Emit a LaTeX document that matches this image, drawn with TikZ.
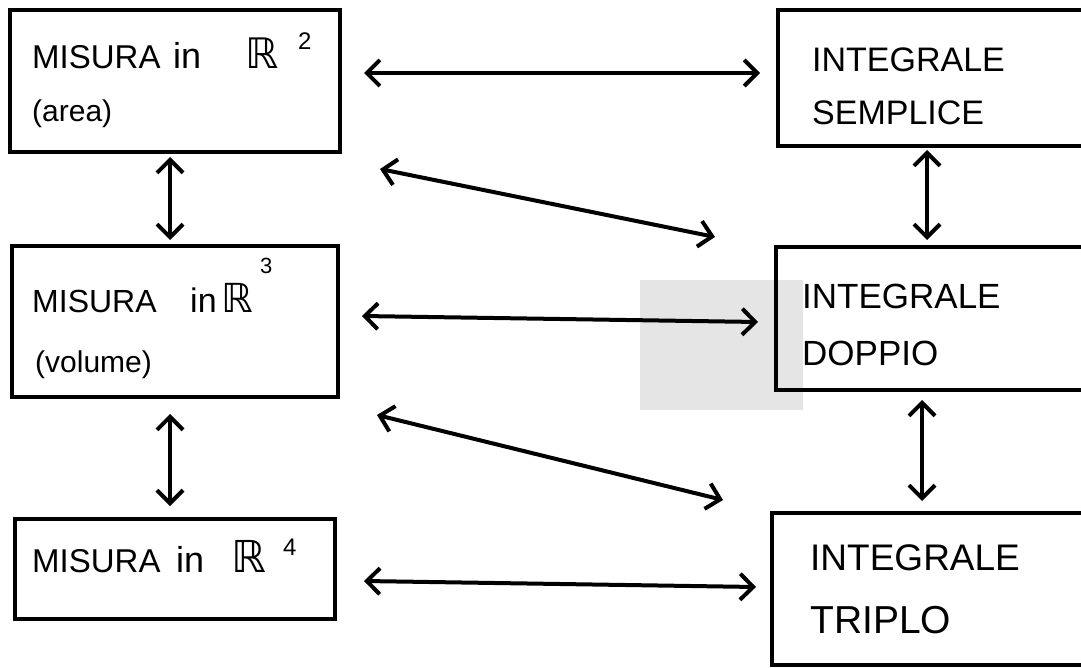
\documentclass[tikz,border=0pt]{standalone}
\usepackage{fontspec}
\setmainfont{Liberation Sans}
\newfontfamily\dvsans{DejaVu Sans}
\usetikzlibrary{arrows.meta,calc}

\tikzset{
  box/.style={draw=black, line width=4pt, rectangle, inner sep=0pt},
  barb/.tip={Straight Barb[length=13pt,width=26pt,line width=4pt]},
  dbl/.style={line width=4pt, line cap=round, barb-barb},
  txt/.style={anchor=base west, inner sep=0pt, text=black},
}
\newcommand{\fs}[1]{\fontsize{#1}{#1}\selectfont}

\begin{document}
\begin{tikzpicture}[x=1pt,y=-1pt]
  \useasboundingbox (0,0) rectangle (1081,668);
  \clip (0,0) rectangle (1081,668);
  \fill[white] (0,0) rectangle (1081,668);

  % light shaded patch behind the middle right box
  \fill[black!10] (640,280) rectangle (803,410);

  % boxes
  \node[box, minimum width=330pt, minimum height=142pt] (A) at (175,81) {};
  \node[box, minimum width=322pt, minimum height=136pt] (B) at (939,78) {};
  \node[box, minimum width=326pt, minimum height=151pt] (C) at (175,321.5) {};
  \node[box, minimum width=324pt, minimum height=143pt] (D) at (938,318.5) {};
  \node[box, minimum width=320pt, minimum height=100pt] (E) at (175,569) {};
  \node[box, minimum width=328pt, minimum height=152pt] (F) at (936,589) {};

  % labels: measure in R^2
  \node[txt, font=\fs{33}] (tA1) at (32,69) {MISURA};
  \node[txt, font=\fs{36}] (tA1in) at (173,69) {in};
  \node[txt, font=\dvsans\fs{42}] (tA1R) at (245,69) {ℝ};
  \node[txt, font=\fs{24}] (tA1s) at (298,50) {2};
  \node[txt, font=\fs{30}] (tA2) at (32,122) {(area)};
  % simple integral
  \node[txt, font=\fs{34}] (tB1) at (812,72) {INTEGRALE};
  \node[txt, font=\fs{34}] (tB2) at (812,125) {SEMPLICE};
  % measure in R^3
  \node[txt, font=\fs{32}] (tC1) at (32,312) {MISURA};
  \node[txt, font=\fs{34}] (tC1in) at (190,312) {in};
  \node[txt, font=\dvsans\fs{40}] (tC1R) at (221,312) {ℝ};
  \node[txt, font=\fs{22}] (tC1s) at (260,273) {3};
  \node[txt, font=\fs{30}] (tC2) at (35,372) {(volume)};
  % double integral
  \node[txt, font=\fs{35}] (tD1) at (802,308) {INTEGRALE};
  \node[txt, font=\fs{35}] (tD2) at (802,365) {DOPPIO};
  % measure in R^4
  \node[txt, font=\fs{33}] (tE1) at (32,572) {MISURA};
  \node[txt, font=\fs{36}] (tE1in) at (176,572) {in};
  \node[txt, font=\dvsans\fs{44}] (tE1R) at (231,572) {ℝ};
  \node[txt, font=\fs{24}] (tE1s) at (283,555) {4};
  % triple integral
  \node[txt, font=\fs{37}] (tF1) at (810,570) {INTEGRALE};
  \node[txt, font=\fs{39}] (tF2) at (810,633) {TRIPLO};

  % horizontal links
  \draw[dbl] ($(A.east)+(22,-8)$) -- ($(B.west)+(-16,-5)$);
  \draw[dbl] ($(C.east)+(22,-5.5)$) -- ($(D.west)+(-16,3.5)$);
  \draw[dbl] ($(E.east)+(27,12)$) -- ($(F.west)+(-14,-2)$);

  % diagonal links
  \draw[dbl] ($(A.south east)+(38,15)$) -- ($(D.north west)+(-59,-8)$);
  \draw[dbl] ($(C.south east)+(37,16)$) -- ($(F.north west)+(-47,-11)$);

  % vertical links
  \draw[dbl] ($(A.south)+(-5,3)$) -- ($(C.north)+(-5,-4)$);
  \draw[dbl] ($(C.south)+(-5,15)$) -- ($(E.north)+(-5,-11)$);
  \draw[dbl] ($(B.south)+(-12,2)$) -- ($(D.north)+(-11,-5)$);
  \draw[dbl] ($(D.south)+(-16,8)$) -- ($(F.north)+(-14,-10)$);
\end{tikzpicture}
\end{document}
